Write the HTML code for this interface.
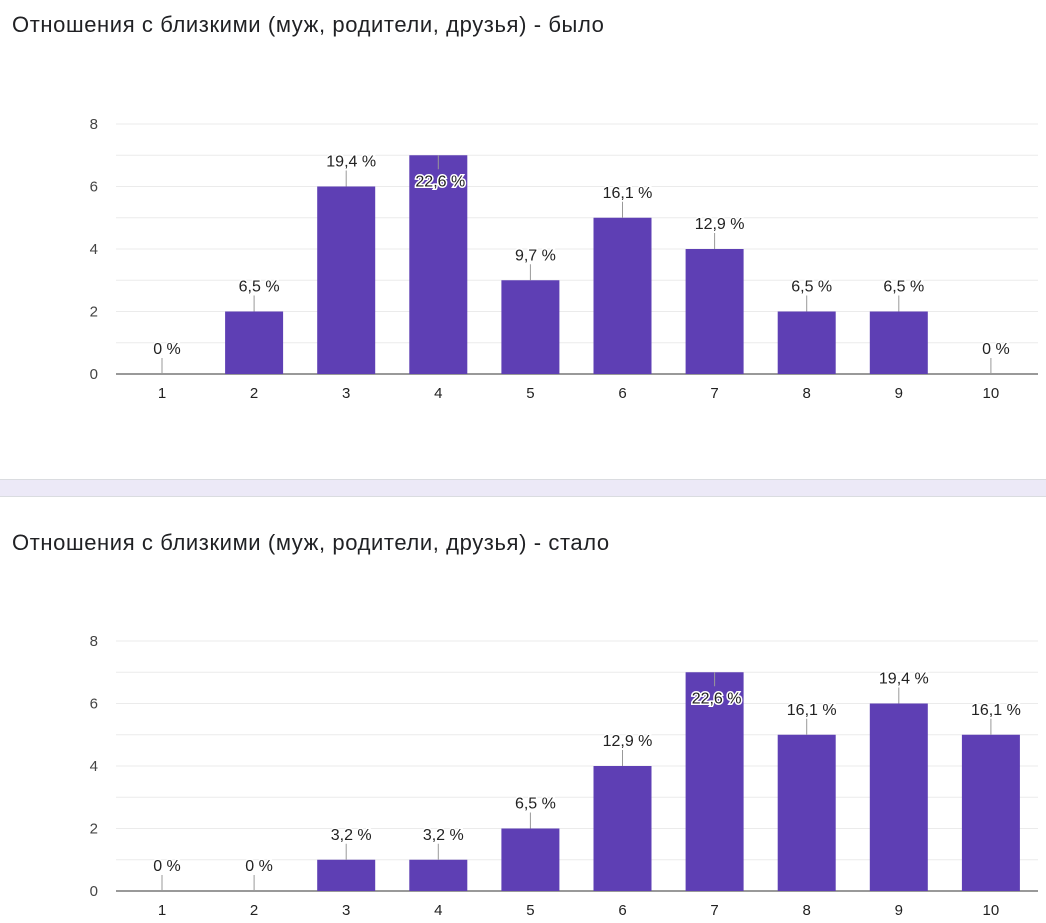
<!DOCTYPE html>
<html><head><meta charset="utf-8"><style>
body{margin:0;width:1046px;height:923px;background:#fff;overflow:hidden;font-family:"Liberation Sans",sans-serif;}
.t{position:absolute;left:12px;font-size:22px;letter-spacing:0.6px;color:#202124;}
.band{position:absolute;left:0;top:479px;width:1046px;height:16px;background:#ece9f7;border-top:1px solid #dadce0;border-bottom:1px solid #dadce0;}
svg{position:absolute;left:0;top:0}
</style></head><body>
<div class="t" style="top:12px">Отношения с близкими (муж, родители, друзья) - было</div>
<div class="band"></div>
<div class="t" style="top:530px">Отношения с близкими (муж, родители, друзья) - стало</div>
<svg id="s" width="1046" height="923" font-family="Liberation Sans, sans-serif"></svg>
<script>
var s=document.getElementById('s'),h='';
function chart(base,vals,labs){
  var u=31.25;
  for(var k=0;k<=8;k++){var y=base-k*u;h+='<line x1="116" x2="1038" y1="'+y+'" y2="'+y+'" stroke="'+(k==0?'#333':'#ebebeb')+'" stroke-width="1"/>';
    if(k%2==0)h+='<text x="98" y="'+(y+5)+'" font-size="15" fill="#444" text-anchor="end">'+k+'</text>';}
  for(var i=0;i<10;i++){var cx=162+i*92.1,v=vals[i],top=base-v*u;
    if(v>0)h+='<rect x="'+(cx-29)+'" y="'+top+'" width="58" height="'+(v*u)+'" fill="#5e3fb4"/>';
    h+='<text x="'+cx+'" y="'+(base+24)+'" font-size="15" fill="#222" text-anchor="middle">'+(i+1)+'</text>';
    if(v==7){h+='<line x1="'+cx+'" x2="'+cx+'" y1="'+top+'" y2="'+(top+14)+'" stroke="#999"/>';
      h+='<text x="'+(cx+2)+'" y="'+(top+31)+'" font-size="16" fill="#222" text-anchor="middle" stroke="#fff" stroke-width="3" paint-order="stroke">'+labs[i]+'</text>';}
    else{h+='<line x1="'+cx+'" x2="'+cx+'" y1="'+top+'" y2="'+(top-16)+'" stroke="#999"/>';
      h+='<text x="'+(cx+5)+'" y="'+(top-20)+'" font-size="16" fill="#222" text-anchor="middle" stroke="#fff" stroke-width="3" paint-order="stroke">'+labs[i]+'</text>';}
  }
}
chart(374,[0,2,6,7,3,5,4,2,2,0],['0 %','6,5 %','19,4 %','22,6 %','9,7 %','16,1 %','12,9 %','6,5 %','6,5 %','0 %']);
chart(891,[0,0,1,1,2,4,7,5,6,5],['0 %','0 %','3,2 %','3,2 %','6,5 %','12,9 %','22,6 %','16,1 %','19,4 %','16,1 %']);
s.innerHTML=h;
</script>
</body></html>
